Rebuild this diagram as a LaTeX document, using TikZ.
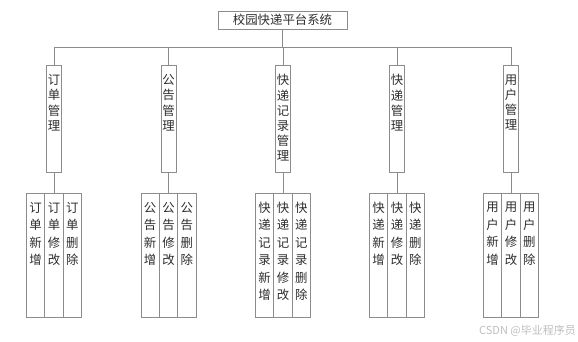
\documentclass[tikz,border=0pt]{standalone}
\usepackage{fontspec}
\setmainfont{Noto Sans CJK SC}
\usetikzlibrary{positioning}
\definecolor{edge}{RGB}{140,140,140}
\definecolor{ink}{RGB}{45,45,45}
\definecolor{markgray}{RGB}{190,190,190}

\newcommand{\modtext}[1]{\parbox[c][107pt][t]{15pt}{\centering\vspace*{9.5pt}\baselineskip=15.2pt #1\par}}
\newcommand{\leaftext}[1]{\parbox[c][124pt][t]{18.4pt}{\centering\vspace*{9pt}\baselineskip=17.5pt #1\par}}

\begin{document}
\begin{tikzpicture}[x=1pt, y=1pt, every node/.style={font=\fontsize{12.4pt}{15pt}\selectfont, text=ink}]
    \tikzstyle{root} = [draw=edge, line width=0.7pt, minimum width=129pt, minimum height=18pt, inner sep=0pt, outer sep=0pt]
    \tikzstyle{module} = [draw=edge, line width=0.7pt, inner sep=0pt, outer sep=0pt, anchor=north]
    \tikzstyle{leaf} = [draw=edge, line width=0.7pt, inner sep=0pt, outer sep=0pt]
    \tikzstyle{link} = [draw=edge, line width=0.7pt]

    \useasboundingbox (0,0) rectangle (578,-341);

    % system
    \node (sys) [root] at (282.5,-20) {校园快递平台系统};

    % modules
    \node (order) [module] at (54,-65) {\modtext{订\\单\\管\\理}};
    \node (notice) [module] at (168.5,-65) {\modtext{公\\告\\管\\理}};
    \node (record) [module] at (283,-65) {\modtext{快\\递\\记\\录\\管\\理}};
    \node (express) [module] at (397,-65) {\modtext{快\\递\\管\\理}};
    \node (user) [module] at (511,-65) {\modtext{用\\户\\管\\理}};

    % functions
    \node (order2) [leaf, below=21pt of order] {\leaftext{订\\单\\修\\改}};
    \node (order1) [leaf, left=0pt of order2] {\leaftext{订\\单\\新\\增}};
    \node (order3) [leaf, right=0pt of order2] {\leaftext{订\\单\\删\\除}};

    \node (notice2) [leaf, below=21pt of notice] {\leaftext{公\\告\\修\\改}};
    \node (notice1) [leaf, left=0pt of notice2] {\leaftext{公\\告\\新\\增}};
    \node (notice3) [leaf, right=0pt of notice2] {\leaftext{公\\告\\删\\除}};

    \node (record2) [leaf, below=21pt of record] {\leaftext{快\\递\\记\\录\\修\\改}};
    \node (record1) [leaf, left=0pt of record2] {\leaftext{快\\递\\记\\录\\新\\增}};
    \node (record3) [leaf, right=0pt of record2] {\leaftext{快\\递\\记\\录\\删\\除}};

    \node (express2) [leaf, below=21pt of express] {\leaftext{快\\递\\修\\改}};
    \node (express1) [leaf, left=0pt of express2] {\leaftext{快\\递\\新\\增}};
    \node (express3) [leaf, right=0pt of express2] {\leaftext{快\\递\\删\\除}};

    \node (user2) [leaf, below=21pt of user] {\leaftext{用\\户\\修\\改}};
    \node (user1) [leaf, left=0pt of user2] {\leaftext{用\\户\\新\\增}};
    \node (user3) [leaf, right=0pt of user2] {\leaftext{用\\户\\删\\除}};

    % lines
    \coordinate (bus) at (0,-47);
    \draw [link] (order.north |- bus) -- (user.north |- bus);
    \draw [link] (sys.south) -- (sys.south |- bus);
    \foreach \m in {order, notice, record, express, user} {
        \draw [link] (\m.north) -- (\m.north |- bus);
        \draw [link] (\m.south) -- (\m2.north);
    }

    \node (csdn) [text=markgray, font=\fontsize{11pt}{13pt}\selectfont] at (527.5,-330.5) {CSDN @毕业程序员};
\end{tikzpicture}
\end{document}
